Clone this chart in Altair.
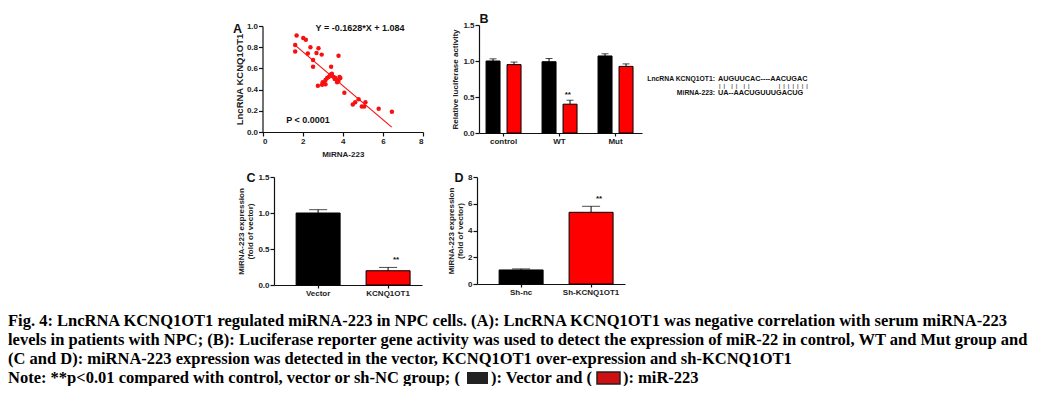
import altair as alt
import pandas as pd

# ---------------- data ----------------
# Panel A: scatter (MiRNA-223 vs LncRNA KCNQ1OT1)
mirna_223 = [1.70, 1.63, 1.63, 2.03, 2.16, 2.26, 2.39, 2.52, 2.52, 2.69,
             2.79, 2.95, 2.76, 3.42, 3.79, 3.05, 3.14, 3.22, 3.30, 3.38,
             3.46, 3.14, 3.55, 3.63, 3.71, 3.79, 3.88, 3.84, 2.97, 3.00,
             3.45, 3.60, 3.72, 4.08, 4.50, 4.62, 4.79, 4.95, 5.07, 5.13,
             5.79, 6.45]
lnc_kcnq = [0.91, 0.82, 0.76, 0.886, 0.87, 0.74, 0.80, 0.68, 0.615, 0.745,
            0.79, 0.73, 0.437, 0.615, 0.72, 0.46, 0.49, 0.51, 0.52, 0.54,
            0.55, 0.45, 0.52, 0.51, 0.49, 0.48, 0.51, 0.52, 0.446, 0.47,
            0.53, 0.50, 0.47, 0.37, 0.26, 0.28, 0.31, 0.24, 0.24, 0.28,
            0.22, 0.19]
fit_x = [1.65, 6.44]
fit_y = [0.815, 0.046]

# Panel B: luciferase activity
groups_b = ["control", "WT", "Mut"]
vector_b = [1.00, 0.99, 1.07]
vector_b_err = [0.03, 0.045, 0.03]
mir_b = [0.95, 0.40, 0.925]
mir_b_err = [0.035, 0.055, 0.035]
mir_b_star = ["", "**", ""]

# Panel C
groups_c = ["Vector", "KCNQ1OT1"]
values_c = [1.00, 0.198]
errors_c = [0.046, 0.046]
stars_c = ["", "**"]

# Panel D
groups_d = ["Sh-nc", "Sh-KCNQ1OT1"]
values_d = [1.05, 5.36]
errors_d = [0.08, 0.45]
stars_d = ["", "**"]

series_names = ["Vector", "miR-223"]
series_colors = ["#000000", "#ff0000"]

caption_lines = [
    "Fig. 4: LncRNA KCNQ1OT1 regulated miRNA-223 in NPC cells. (A): LncRNA KCNQ1OT1 was negative correlation with serum miRNA-223",
    "levels in patients with NPC; (B): Luciferase reporter gene activity was used to detect the expression of miR-22 in control, WT and Mut group and",
    "(C and D): miRNA-223 expression was detected in the vector, KCNQ1OT1 over-expression and sh-KCNQ1OT1",
]
note_parts = ["Note: **p<0.01 compared with control, vector or sh-NC group; (", "): Vector and (", "): miR-223"]

# ---------------- layout ----------------
W, H = 1027, 378
SANS = "Liberation Sans"
SERIF = "Liberation Serif"
CAP = 16.5
NB = "\u00a0"
one = pd.DataFrame({"d": [0]})
color_scale = alt.Scale(domain=series_names, range=series_colors)


def ax_y(xpix, values, fmt, title, **kw):
    return alt.Axis(orient="left", offset=-xpix, values=values, format=fmt, title=title, **kw)


def ax_x(ypix, **kw):
    return alt.Axis(orient="bottom", offset=ypix - H, labelAngle=0, **kw)


def label(txt, x, y, size, align="center", baseline="middle", font=SANS, weight="bold", color="#111"):
    return alt.Chart(one).mark_text(
        align=align, baseline=baseline, font=font, fontSize=size, fontWeight=weight, color=color
    ).encode(x=alt.value(x), y=alt.value(y), text=alt.value(txt))


layers = []

# ---- Panel A ----
dfA = pd.DataFrame({"x": mirna_223, "y": lnc_kcnq})
dfFit = pd.DataFrame({"x": fit_x, "y": fit_y})
xA = alt.Scale(domain=[0, 8], range=[254.5, 415], nice=False, zero=False)
yA = alt.Scale(domain=[0, 1], range=[124, 18], nice=False)
layers.append(
    alt.Chart(dfA).mark_circle(size=20, color="#f81010", opacity=1).encode(
        x=alt.X("x:Q", scale=xA, axis=ax_x(124, values=[0, 2, 4, 6, 8], format="d", title="MiRNA-223", titlePadding=5)),
        y=alt.Y("y:Q", scale=yA, axis=ax_y(254.5, [0, 0.2, 0.4, 0.6, 0.8, 1.0], ".1f", "LncRNA KCNQ1OT1",
                                           titleFontSize=9.5, titlePadding=2)),
    )
)
layers.append(
    alt.Chart(dfFit).mark_line(color="#f81010", strokeWidth=1.2).encode(
        x=alt.X("x:Q", scale=xA, axis=None), y=alt.Y("y:Q", scale=yA, axis=None)
    )
)
layers.append(label("A", 229.5, 21, 12.5))
layers.append(label("Y = -0.1628*X + 1.084", 352, 20, 9))
layers.append(label("P < 0.0001", 300, 112, 9))

# ---- Panel B ----
rows = []
for i, g in enumerate(groups_b):
    rows.append({"g": g, "series": series_names[0], "val": vector_b[i], "err": vector_b_err[i], "star": ""})
    rows.append({"g": g, "series": series_names[1], "val": mir_b[i], "err": mir_b_err[i], "star": mir_b_star[i]})
dfB = pd.DataFrame(rows)
xB = alt.Scale(domain=groups_b, range=[471, 634], paddingInner=0.375, paddingOuter=0.143, align=0.44)
yB = alt.Scale(domain=[0, 1.5], range=[125, 17], nice=False)
first = True
for s, off in zip(series_names, [-10.5, 10.5]):
    base = alt.Chart(dfB).transform_filter(alt.datum.series == s).transform_calculate(top="datum.val + datum.err")
    if first:
        xenc = alt.X("g:N", scale=xB, axis=ax_x(125, title=None, tickSize=3))
        yenc = alt.Y("val:Q", scale=yB, axis=ax_y(471, [0, 0.5, 1.0, 1.5], ".1f", "Relative luciferase activity", titlePadding=3))
        first = False
    else:
        xenc = alt.X("g:N", scale=xB, axis=None)
        yenc = alt.Y("val:Q", scale=yB, axis=None)
    xn = alt.X("g:N", scale=xB, axis=None)
    layers.append(base.mark_bar(width=14, xOffset=off, stroke="black", strokeWidth=1).encode(
        x=xenc, y=yenc, color=alt.Color("series:N", scale=color_scale, legend=None)))
    layers.append(base.mark_rule(xOffset=off, color="black", strokeWidth=1).encode(
        x=xn, y=alt.Y("val:Q", scale=yB, axis=None), y2="top:Q"))
    layers.append(base.mark_tick(xOffset=off, color="black", size=7, thickness=1).encode(
        x=xn, y=alt.Y("top:Q", scale=yB, axis=None)))
    layers.append(base.mark_text(xOffset=off, dy=-1, baseline="bottom", font=SANS, fontSize=8,
                                 fontWeight="bold", color="#111").encode(
        x=xn, y=alt.Y("top:Q", scale=yB, axis=None), text="star:N"))
layers.append(label("B", 476, 10.5, 12.5))

# alignment text
pair = "|" + NB * 2 + "|"
pipes = (pair + NB * 4 + pair + NB * 4 + pair + NB * 19 + (NB * 2).join(["|"] * 7))
layers.append(label("LncRNA KCNQ1OT1:", 707, 70.5, 6.8, align="right"))
layers.append(label("AUGUUCAC----AACUGAC", 710, 70.5, 7.3, align="left"))
layers.append(label(pipes, 711, 77.5, 5.5, align="left", weight="bold", color="#555"))
layers.append(label("MiRNA-223:", 707, 84.5, 6.8, align="right"))
layers.append(label("UA--AACUGUUUGACUG", 710, 84.5, 7.3, align="left"))


# ---- Panels C and D ----
def two_bar(groups, vals, errs, stars, xr, yr, ydom, yvals, yfmt, y_axis_x, x_axis_y):
    df = pd.DataFrame({"g": groups, "series": series_names, "val": vals, "err": errs, "star": stars})
    xs = alt.Scale(domain=groups, range=xr, paddingInner=0.371, paddingOuter=0.243, align=0.65)
    ys = alt.Scale(domain=ydom, range=yr, nice=False)
    base = alt.Chart(df).transform_calculate(top="datum.val + datum.err")
    xn = alt.X("g:N", scale=xs, axis=None)
    out = [
        base.mark_bar(width=44, stroke="black", strokeWidth=1).encode(
            x=alt.X("g:N", scale=xs, axis=ax_x(x_axis_y, title=None, tickSize=3)),
            y=alt.Y("val:Q", scale=ys, axis=ax_y(y_axis_x, yvals, yfmt, ["MiRNA-223 expression", "(fold of vector)"],
                                                 titleFontSize=8, titleLineHeight=9.5, titlePadding=3)),
            color=alt.Color("series:N", scale=color_scale, legend=None)),
        base.mark_rule(color="black", strokeWidth=1).encode(
            x=xn, y=alt.Y("val:Q", scale=ys, axis=None), y2="top:Q"),
        base.mark_tick(color="black", size=18, thickness=1).encode(
            x=xn, y=alt.Y("top:Q", scale=ys, axis=None)),
        base.mark_text(dy=-3, baseline="bottom", font=SANS, fontSize=8, fontWeight="bold", color="#111").encode(
            x=xn, y=alt.Y("top:Q", scale=ys, axis=None), text="star:N"),
    ]
    return out


layers += two_bar(groups_c, values_c, errors_c, stars_c, [266, 414], [277, 169], [0, 1.5],
                  [0, 0.5, 1.0, 1.5], ".1f", 266, 277)
layers.append(label("C", 243, 170, 12.5))
layers += two_bar(groups_d, values_d, errors_d, stars_d, [469, 617], [276, 169], [0, 8],
                  [0, 2, 4, 6, 8], "d", 469, 276)
layers.append(label("D", 451, 169.5, 12.5))

# ---- Caption ----
for txt, yy in zip(caption_lines, [318, 337, 356]):
    layers.append(label(txt, 0, yy, CAP, align="left", baseline="alphabetic", font=SERIF, color="#000"))
layers.append(label(note_parts[0], 0, 375, CAP, align="left", baseline="alphabetic", font=SERIF, color="#000"))
layers.append(alt.Chart(one).mark_rect(color="#222").encode(
    x=alt.value(459), x2=alt.value(480), y=alt.value(364), y2=alt.value(376)))
layers.append(label(note_parts[1], 483, 375, CAP, align="left", baseline="alphabetic", font=SERIF, color="#000"))
layers.append(alt.Chart(one).mark_rect(color="#d01010", stroke="#222", strokeWidth=1.5).encode(
    x=alt.value(589), x2=alt.value(612), y=alt.value(364), y2=alt.value(376)))
layers.append(label(note_parts[2], 615, 375, CAP, align="left", baseline="alphabetic", font=SERIF, color="#000"))

chart = (
    alt.layer(*layers)
    .resolve_scale(x="independent", y="independent")
    .properties(width=W, height=H, padding=0, autosize=alt.AutoSizeParams(type="none"))
    .configure_view(stroke=None)
    .configure_axis(
        grid=False, domainColor="#111", tickColor="#111", domainWidth=1.2, tickWidth=1.2, tickSize=4,
        labelFont=SANS, labelFontSize=8, labelFontWeight="bold", labelColor="#222", labelPadding=1,
        titleFont=SANS, titleFontSize=8, titleFontWeight="bold", titleColor="#222",
    )
)
chart.save("out.html", embed_options={"renderer": "svg", "actions": False})
